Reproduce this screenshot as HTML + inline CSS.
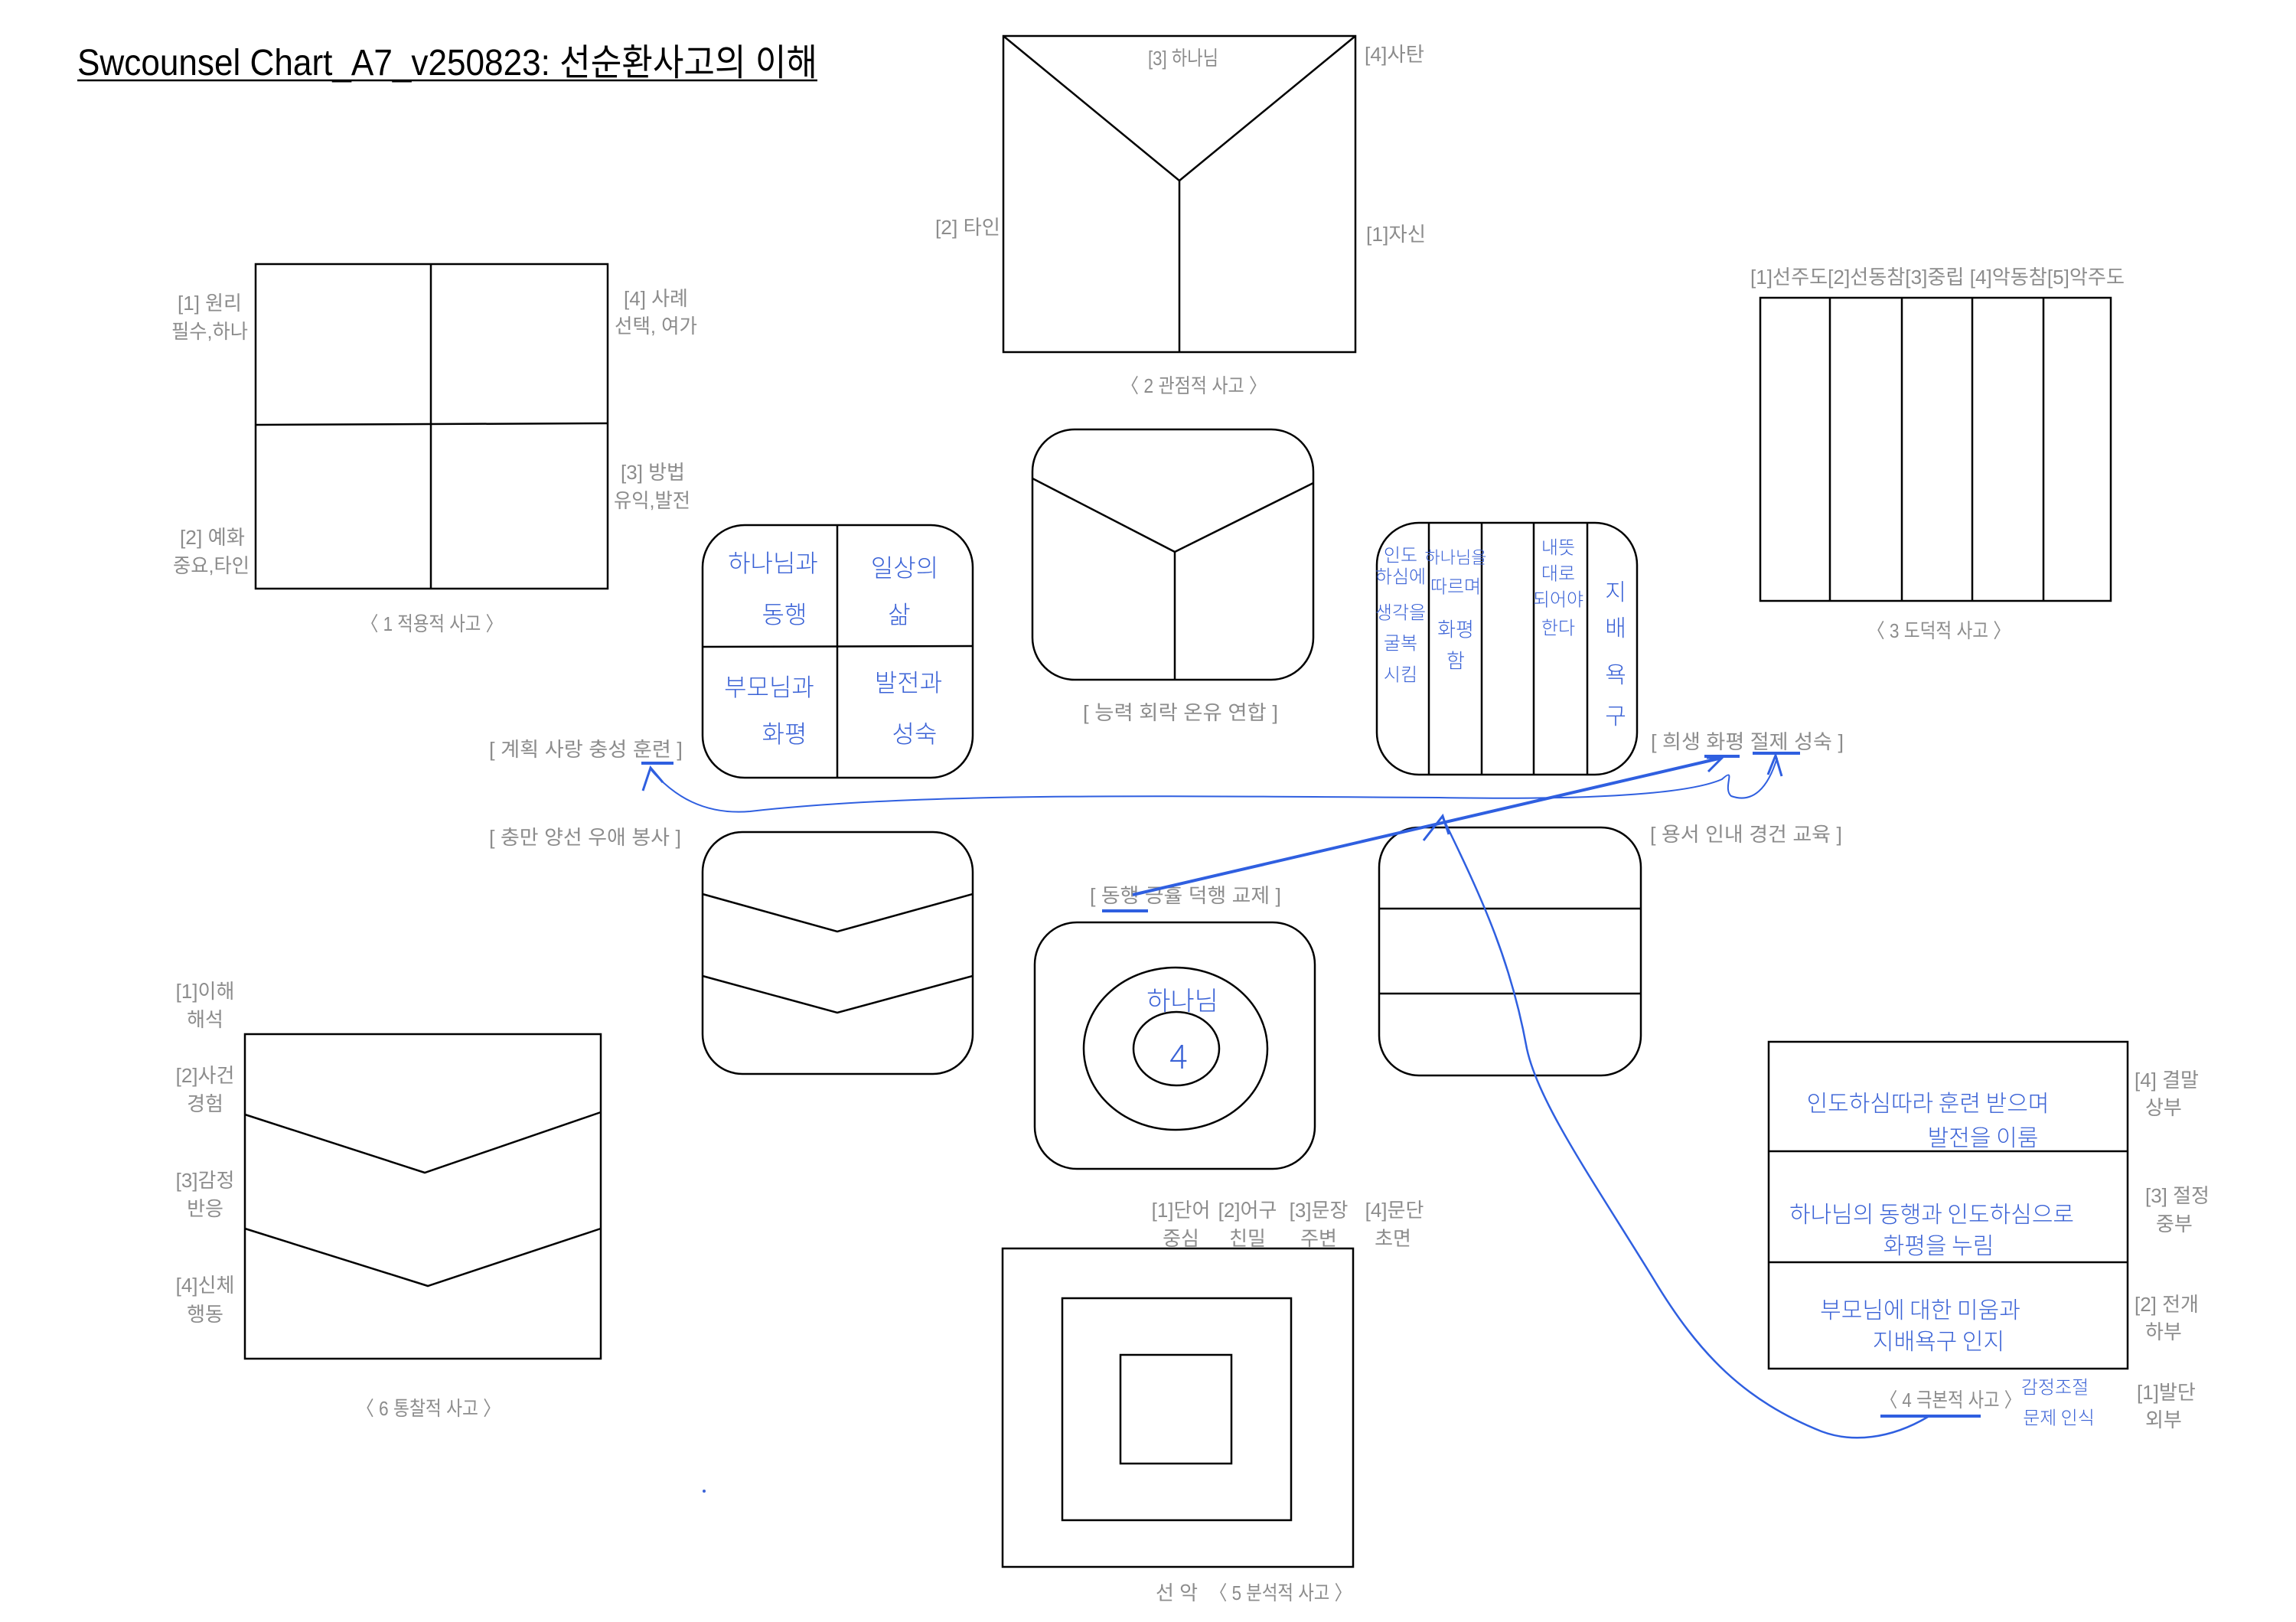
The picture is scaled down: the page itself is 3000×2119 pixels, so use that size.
<!DOCTYPE html>
<html><head><meta charset="utf-8"><style>
html,body{margin:0;padding:0;background:#fff;}
svg{display:block;}
text{font-family:"Liberation Sans","Noto Sans CJK KR",sans-serif;}
.l{fill:#8c8c8c;font-size:26px;dominant-baseline:central;}
.h{fill:#3a62d6;font-size:32px;dominant-baseline:central;text-anchor:middle;font-family:"Noto Sans CJK KR",sans-serif;font-weight:300;}
.s{fill:none;stroke:#000;stroke-width:2.5;}
.b{fill:none;stroke:#2f5fe0;}
</style></head><body>
<svg width="3000" height="2119" viewBox="0 0 3000 2119" xmlns="http://www.w3.org/2000/svg">
<rect width="3000" height="2119" fill="#fff"/>
<!-- title -->
<text x="101" y="98" font-size="48" fill="#000" textLength="967" lengthAdjust="spacingAndGlyphs">Swcounsel Chart_A7_v250823: 선순환사고의 이해</text>
<line x1="101" y1="105" x2="1068" y2="105" stroke="#000" stroke-width="2.5"/>

<!-- Box1 -->
<rect class="s" x="334" y="345" width="460" height="424"/>
<line class="s" x1="563" y1="345" x2="563" y2="769"/>
<line class="s" x1="334" y1="555" x2="794" y2="553"/>
<text class="l" x="232" y="396" textLength="84" lengthAdjust="spacingAndGlyphs">[1] 원리</text>
<text class="l" x="224" y="433" textLength="100" lengthAdjust="spacingAndGlyphs">필수,하나</text>
<text class="l" x="815" y="390" textLength="84" lengthAdjust="spacingAndGlyphs">[4] 사례</text>
<text class="l" x="803" y="426" textLength="108" lengthAdjust="spacingAndGlyphs">선택, 여가</text>
<text class="l" x="811" y="617" textLength="84" lengthAdjust="spacingAndGlyphs">[3] 방법</text>
<text class="l" x="802" y="654" textLength="100" lengthAdjust="spacingAndGlyphs">유익,발전</text>
<text class="l" x="235" y="702" textLength="85" lengthAdjust="spacingAndGlyphs">[2] 예화</text>
<text class="l" x="226" y="739" textLength="100" lengthAdjust="spacingAndGlyphs">중요,타인</text>
<text class="l" x="472" y="815" textLength="185" lengthAdjust="spacingAndGlyphs">〈 1 적용적 사고 〉</text>

<!-- Box2 Y -->
<rect class="s" x="1311" y="47" width="460" height="413"/>
<polyline class="s" points="1311,47 1541,236 1771,47"/>
<line class="s" x1="1541" y1="236" x2="1541" y2="460"/>
<text class="l" x="1500" y="76" textLength="92" lengthAdjust="spacingAndGlyphs">[3] 하나님</text>
<text class="l" x="1783" y="71" textLength="78" lengthAdjust="spacingAndGlyphs">[4]사탄</text>
<text class="l" x="1785" y="306" textLength="78" lengthAdjust="spacingAndGlyphs">[1]자신</text>
<text class="l" x="1222" y="297" textLength="85" lengthAdjust="spacingAndGlyphs">[2] 타인</text>
<text class="l" x="1465" y="504" textLength="190" lengthAdjust="spacingAndGlyphs">〈 2 관점적 사고 〉</text>

<!-- Box3 -->
<rect class="s" x="2300" y="389" width="458" height="396"/>
<line class="s" x1="2391" y1="389" x2="2391" y2="785"/>
<line class="s" x1="2485" y1="389" x2="2485" y2="785"/>
<line class="s" x1="2577" y1="389" x2="2577" y2="785"/>
<line class="s" x1="2670" y1="389" x2="2670" y2="785"/>
<text class="l" x="2287" y="362" textLength="489" lengthAdjust="spacingAndGlyphs">[1]선주도[2]선동참[3]중립 [4]악동참[5]악주도</text>
<text class="l" x="2440" y="824" textLength="187" lengthAdjust="spacingAndGlyphs">〈 3 도덕적 사고 〉</text>

<!-- Rounded 능력 -->
<rect class="s" x="1349" y="561" width="367" height="327" rx="55"/>
<polyline class="s" points="1349,625 1535,721 1716,631"/>
<line class="s" x1="1535" y1="721" x2="1535" y2="888"/>
<text class="l" x="1415" y="931" textLength="255" lengthAdjust="spacingAndGlyphs">[ 능력 회락 온유 연합 ]</text>

<!-- 4-quad rounded -->
<rect class="s" x="918" y="686" width="353" height="330" rx="55"/>
<line class="s" x1="1094" y1="686" x2="1094" y2="1016"/>
<line class="s" x1="918" y1="845" x2="1271" y2="844"/>
<text class="h" x="1010" y="734">하나님과</text>
<text class="h" x="1025" y="801">동행</text>
<text class="h" x="1182" y="740">일상의</text>
<text class="h" x="1175" y="801">삶</text>
<text class="h" x="1005" y="896">부모님과</text>
<text class="h" x="1025" y="957">화평</text>
<text class="h" x="1187" y="890">발전과</text>
<text class="h" x="1195" y="957">성숙</text>
<text class="l" x="639" y="979" textLength="253" lengthAdjust="spacingAndGlyphs">[ 계획 사랑 충성 훈련 ]</text>

<!-- 5-col rounded -->
<rect class="s" x="1799" y="683" width="340" height="329" rx="55"/>
<line class="s" x1="1867" y1="683" x2="1867" y2="1012"/>
<line class="s" x1="1936" y1="683" x2="1936" y2="1012"/>
<line class="s" x1="2004" y1="683" x2="2004" y2="1012"/>
<line class="s" x1="2074" y1="683" x2="2074" y2="1012"/>
<g class="h" style="font-size:24px">
<text class="h" style="font-size:24px" x="1830" y="723">인도</text>
<text class="h" style="font-size:24px" x="1830" y="751">하심에</text>
<text class="h" style="font-size:24px" x="1830" y="798">생각을</text>
<text class="h" style="font-size:24px" x="1830" y="838">굴복</text>
<text class="h" style="font-size:24px" x="1830" y="879">시킴</text>
<text class="h" style="font-size:22px" x="1902" y="727">하나님을</text>
<text class="h" style="font-size:24px" x="1902" y="764">따르며</text>
<text class="h" style="font-size:26px" x="1902" y="821">화평</text>
<text class="h" style="font-size:26px" x="1902" y="862">함</text>
<text class="h" style="font-size:24px" x="2036" y="713">내뜻</text>
<text class="h" style="font-size:24px" x="2036" y="747">대로</text>
<text class="h" style="font-size:24px" x="2036" y="781">되어야</text>
<text class="h" style="font-size:24px" x="2036" y="818">한다</text>
<text class="h" style="font-size:30px" x="2111" y="771">지</text>
<text class="h" style="font-size:30px" x="2111" y="818">배</text>
<text class="h" style="font-size:30px" x="2111" y="879">욕</text>
<text class="h" style="font-size:30px" x="2111" y="933">구</text>
</g>
<text class="l" x="2157" y="969" textLength="252" lengthAdjust="spacingAndGlyphs">[ 희생 화평 절제 성숙 ]</text>

<!-- chevron rounded -->
<rect class="s" x="918" y="1087" width="353" height="316" rx="52"/>
<polyline class="s" points="918,1168 1094,1217 1271,1168"/>
<polyline class="s" points="918,1275 1094,1323 1271,1275"/>
<text class="l" x="639" y="1094" textLength="251" lengthAdjust="spacingAndGlyphs">[ 충만 양선 우애 봉사 ]</text>

<!-- circle rounded -->
<rect class="s" x="1352" y="1205" width="366" height="322" rx="55"/>
<ellipse class="s" cx="1536" cy="1370" rx="120" ry="106"/>
<ellipse class="s" cx="1537" cy="1370" rx="56" ry="48"/>
<text class="h" x="1545" y="1305" style="font-size:34px">하나님</text>
<text class="h" x="1540" y="1377" style="font-size:44px">4</text>
<text class="l" x="1424" y="1170" textLength="250" lengthAdjust="spacingAndGlyphs">[ 동행 긍휼 덕행 교제 ]</text>

<!-- lines rounded -->
<rect class="s" x="1802" y="1081" width="342" height="324" rx="52"/>
<line class="s" x1="1802" y1="1187" x2="2144" y2="1187"/>
<line class="s" x1="1802" y1="1298" x2="2144" y2="1298"/>
<text class="l" x="2156" y="1090" textLength="251" lengthAdjust="spacingAndGlyphs">[ 용서 인내 경건 교육 ]</text>

<!-- Box6 -->
<rect class="s" x="320" y="1351" width="465" height="424"/>
<polyline class="s" points="320,1456 555,1532 785,1453"/>
<polyline class="s" points="320,1605 559,1680 785,1605"/>
<g text-anchor="middle">
<text class="l" x="268" y="1295" text-anchor="middle">[1]이해</text>
<text class="l" x="268" y="1332" text-anchor="middle">해석</text>
<text class="l" x="268" y="1405" text-anchor="middle">[2]사건</text>
<text class="l" x="268" y="1442" text-anchor="middle">경험</text>
<text class="l" x="268" y="1542" text-anchor="middle">[3]감정</text>
<text class="l" x="268" y="1579" text-anchor="middle">반응</text>
<text class="l" x="268" y="1679" text-anchor="middle">[4]신체</text>
<text class="l" x="268" y="1717" text-anchor="middle">행동</text>
</g>
<text class="l" x="466" y="1840" textLength="188" lengthAdjust="spacingAndGlyphs">〈 6 통찰적 사고 〉</text>
<circle cx="920" cy="1948" r="2" fill="#3a62d6"/>

<!-- Box5 nested -->
<rect class="s" x="1310" y="1631" width="458" height="416"/>
<rect class="s" x="1388" y="1696" width="299" height="290"/>
<rect class="s" x="1464" y="1770" width="145" height="142"/>
<g text-anchor="middle">
<text class="l" x="1543" y="1581" text-anchor="middle">[1]단어</text>
<text class="l" x="1630" y="1581" text-anchor="middle">[2]어구</text>
<text class="l" x="1723" y="1581" text-anchor="middle">[3]문장</text>
<text class="l" x="1822" y="1581" text-anchor="middle">[4]문단</text>
<text class="l" x="1543" y="1618" text-anchor="middle">중심</text>
<text class="l" x="1630" y="1618" text-anchor="middle">친밀</text>
<text class="l" x="1723" y="1618" text-anchor="middle">주변</text>
<text class="l" x="1820" y="1618" text-anchor="middle">초면</text>
</g>
<text class="l" x="1510" y="2081">선  악</text>
<text class="l" x="1581" y="2081" textLength="185" lengthAdjust="spacingAndGlyphs">〈 5 분석적 사고 〉</text>

<!-- Box4 -->
<rect class="s" x="2311" y="1361" width="469" height="427"/>
<line class="s" x1="2311" y1="1504" x2="2780" y2="1504"/>
<line class="s" x1="2311" y1="1649" x2="2780" y2="1649"/>
<text class="h" x="2519" y="1439" style="font-size:30px">인도하심따라 훈련 받으며</text>
<text class="h" x="2591" y="1484" style="font-size:30px">발전을 이룸</text>
<text class="h" x="2524" y="1584" style="font-size:30px">하나님의 동행과 인도하심으로</text>
<text class="h" x="2533" y="1625" style="font-size:30px">화평을 누림</text>
<text class="h" x="2509" y="1709" style="font-size:30px">부모님에 대한 미움과</text>
<text class="h" x="2533" y="1750" style="font-size:30px">지배욕구 인지</text>
<text class="l" x="2789" y="1411">[4] 결말</text>
<text class="l" x="2803" y="1447">상부</text>
<text class="l" x="2803" y="1562">[3] 절정</text>
<text class="l" x="2817" y="1599">중부</text>
<text class="l" x="2789" y="1704">[2] 전개</text>
<text class="l" x="2803" y="1740">하부</text>
<text class="l" x="2792" y="1819">[1]발단</text>
<text class="l" x="2803" y="1855">외부</text>
<text class="l" x="2457" y="1829" textLength="184" lengthAdjust="spacingAndGlyphs">〈 4 극본적 사고 〉</text>
<text class="h" x="2685" y="1810" style="font-size:24px">감정조절</text>
<text class="h" x="2690" y="1850" style="font-size:24px">문제 인식</text>

<!-- blue annotations -->
<line class="b" stroke-width="4" x1="838" y1="997" x2="880" y2="997"/>
<line class="b" stroke-width="4" x1="1440" y1="1190" x2="1500" y2="1190"/>
<line class="b" stroke-width="4" x1="2227" y1="988" x2="2273" y2="988"/>
<line class="b" stroke-width="4" x1="2290" y1="984" x2="2352" y2="984"/>
<line class="b" stroke-width="4" x1="2457" y1="1850" x2="2588" y2="1850"/>
<!-- thin curve from 계획 to 절제 -->
<path class="b" stroke-width="2" d="M850,1005 C880,1040 920,1065 980,1060 C1200,1035 1500,1040 1880,1042 C2050,1045 2200,1040 2250,1018 C2270,1000 2250,1030 2262,1040 C2290,1050 2310,1030 2322,990"/>
<polyline class="b" stroke-width="3" points="840,1033 850,1003 866,1022"/>
<polyline class="b" stroke-width="3" points="2310,1012 2320,987 2328,1014"/>
<!-- thick line 동행 -> 화평 -->
<line class="b" stroke-width="4" x1="1480" y1="1169" x2="2250" y2="990"/>
<polyline class="b" stroke-width="3" points="2232,1008 2250,990 2230,990"/>
<!-- curve from 극본 to thick line -->
<path class="b" stroke-width="2.5" d="M2519,1851 C2470,1880 2420,1885 2380,1870 C2280,1830 2220,1770 2160,1670 C2080,1540 2010,1440 1995,1370 C1975,1260 1940,1180 1885,1068"/>
<polyline class="b" stroke-width="3" points="1860,1098 1885,1066 1893,1090"/>
</svg>
</body></html>
